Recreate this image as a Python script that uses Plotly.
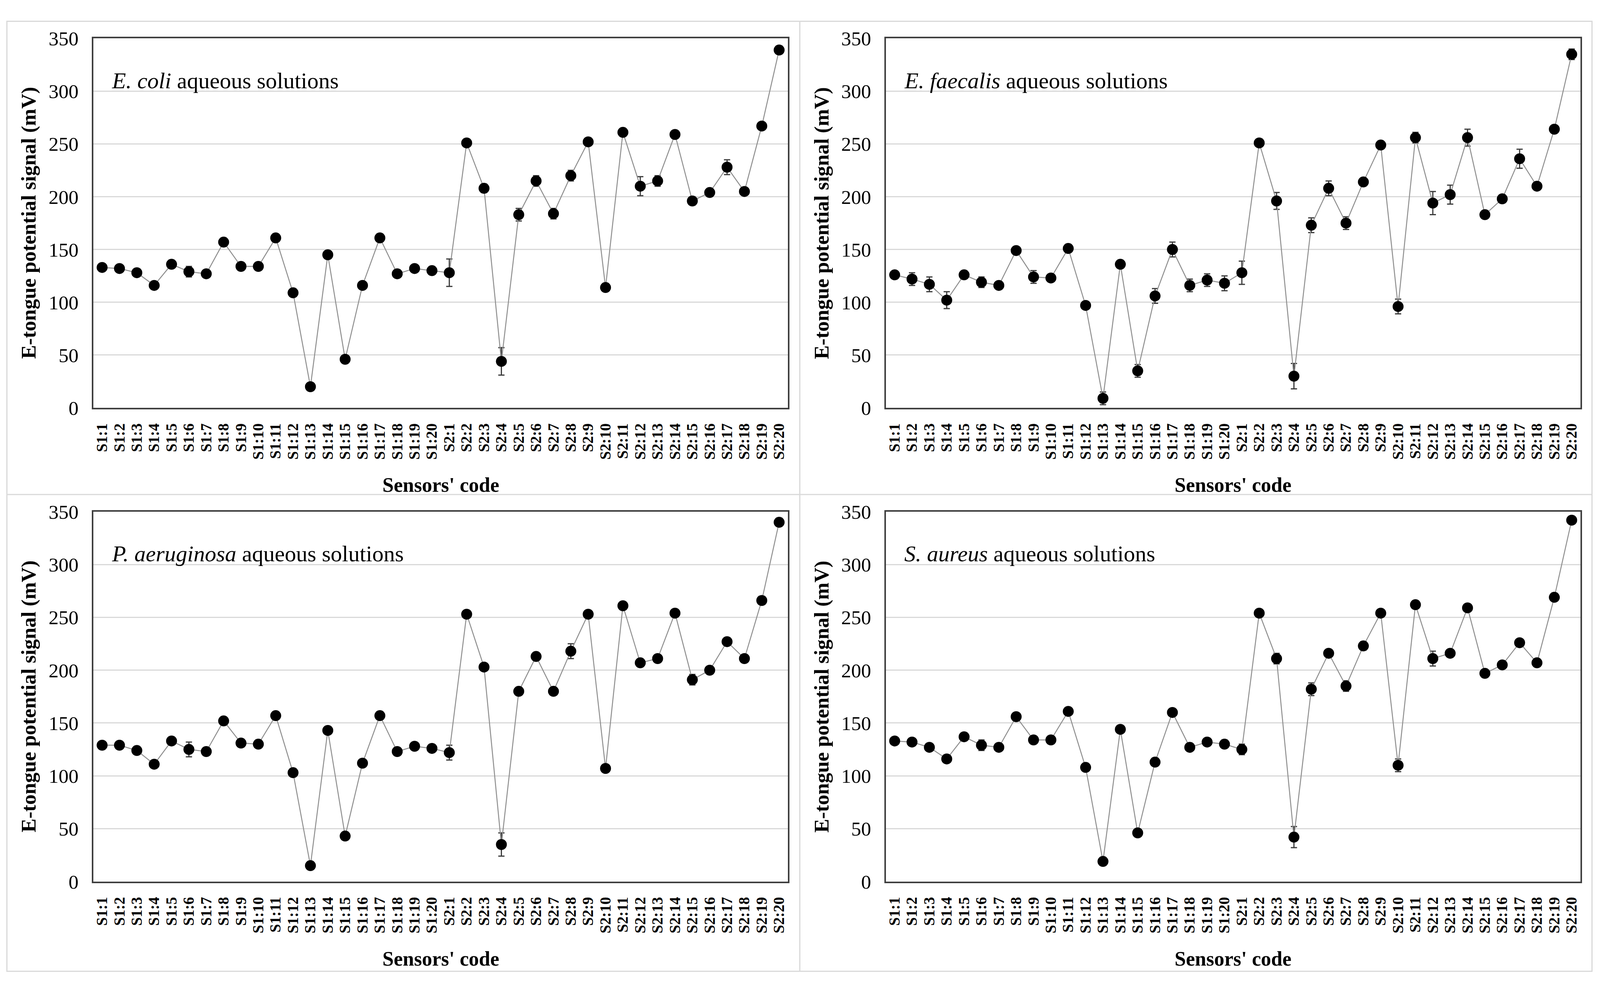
import plotly.graph_objects as go

categories = ["S1:1", "S1:2", "S1:3", "S1:4", "S1:5", "S1:6", "S1:7", "S1:8", "S1:9", "S1:10",
              "S1:11", "S1:12", "S1:13", "S1:14", "S1:15", "S1:16", "S1:17", "S1:18", "S1:19", "S1:20",
              "S2:1", "S2:2", "S2:3", "S2:4", "S2:5", "S2:6", "S2:7", "S2:8", "S2:9", "S2:10",
              "S2:11", "S2:12", "S2:13", "S2:14", "S2:15", "S2:16", "S2:17", "S2:18", "S2:19", "S2:20"]

ecoli = [133, 132, 128, 116, 136, 129, 127, 157, 134, 134, 161, 109, 20, 145, 46, 116, 161, 127, 132, 130,
         128, 251, 208, 44, 183, 215, 184, 220, 252, 114, 261, 210, 215, 259, 196, 204, 228, 205, 267, 339]
ecoli_err = [2, 2, 2, 3, 2, 5, 2, 2, 2, 2, 2, 2, 2, 2, 2, 2, 2, 2, 2, 2,
             13, 2, 4, 13, 6, 5, 5, 5, 2, 2, 2, 9, 5, 2, 2, 2, 7, 2, 2, 2]

faecalis = [126, 122, 117, 102, 126, 119, 116, 149, 124, 123, 151, 97, 9, 136, 35, 106, 150, 116, 121, 118,
            128, 251, 196, 30, 173, 208, 175, 214, 249, 96, 256, 194, 202, 256, 183, 198, 236, 210, 264, 335]
faecalis_err = [2, 6, 7, 8, 2, 5, 2, 2, 6, 2, 2, 2, 6, 2, 6, 7, 7, 6, 6, 7,
                11, 2, 8, 12, 7, 7, 6, 2, 2, 7, 5, 11, 9, 8, 2, 2, 9, 2, 2, 5]

paeruginosa = [129, 129, 124, 111, 133, 125, 123, 152, 131, 130, 157, 103, 15, 143, 43, 112, 157, 123, 128, 126,
               122, 253, 203, 35, 180, 213, 180, 218, 253, 107, 261, 207, 211, 254, 191, 200, 227, 211, 266, 340]
paeruginosa_err = [2, 2, 2, 2, 2, 7, 2, 2, 2, 2, 2, 2, 2, 2, 2, 2, 2, 2, 2, 2,
                   7, 2, 2, 11, 2, 2, 2, 7, 2, 2, 2, 2, 2, 2, 5, 2, 2, 2, 2, 2]

saureus = [133, 132, 127, 116, 137, 129, 127, 156, 134, 134, 161, 108, 19, 144, 46, 113, 160, 127, 132, 130,
           125, 254, 211, 42, 182, 216, 185, 223, 254, 110, 262, 211, 216, 259, 197, 205, 226, 207, 269, 342]
saureus_err = [2, 2, 2, 2, 2, 5, 2, 2, 2, 2, 2, 2, 2, 2, 2, 2, 2, 2, 2, 2,
               5, 2, 5, 10, 6, 2, 5, 4, 2, 6, 2, 7, 2, 2, 2, 2, 2, 2, 2, 2]

panel_titles = ["<i>E. coli</i> aqueous solutions", "<i>E. faecalis</i> aqueous solutions",
                "<i>P. aeruginosa</i> aqueous solutions", "<i>S. aureus</i> aqueous solutions"]
y_ticks = [0, 50, 100, 150, 200, 250, 300, 350]
y_title = "E-tongue potential signal (mV)"
x_title = "Sensors' code"

series = [(ecoli, ecoli_err), (faecalis, faecalis_err), (paeruginosa, paeruginosa_err), (saureus, saureus_err)]

# reference canvas (pixels) used to express the layout as fractions
W, H = 4401, 2537
FONT = "Liberation Serif"

# plot areas in reference pixels (left, right, top, bottom)
areas = [(257, 2167, 73, 1040), (2437, 4347, 73, 1040),
         (257, 2167, 1312, 2280), (2437, 4347, 1312, 2280)]
# panel cell left edge and x-title centre line (reference pixels)
cells = [(19, 1242), (2200, 1242), (19, 2482), (2200, 2482)]

fig = go.Figure()
for i, ((vals, errs), title, (l, r, t, b), (cx0, ty)) in enumerate(zip(series, panel_titles, areas, cells)):
    n = "" if i == 0 else str(i + 1)
    xa, ya = "x" + n, "y" + n
    fig.add_trace(go.Scatter(
        x=categories, y=vals, xaxis=xa, yaxis=ya, mode="lines+markers",
        line=dict(color="#8f8f8f", width=2.5),
        marker=dict(color="black", size=28),
        error_y=dict(type="data", array=errs, visible=True, color="#3a3a3a", thickness=3, width=8),
        showlegend=False))
    fig.layout["xaxis" + n] = dict(
        domain=[l / W, r / W], anchor=ya, type="category", range=[-0.5, 39.5],
        tickmode="array", tickvals=categories, ticktext=categories,
        tickangle=-90, tickfont=dict(family=FONT, size=39, color="black", weight="bold"),
        ticks="outside", ticklen=20, tickcolor="rgba(0,0,0,0)",
        showgrid=False, showline=True, linecolor="#3f3f3f", linewidth=4, mirror=True,
    )
    fig.layout["yaxis" + n] = dict(
        domain=[1 - b / H, 1 - t / H], anchor=xa, range=[0, 350], tickvals=y_ticks,
        tickfont=dict(family=FONT, size=51, color="black"),
        ticks="outside", ticklen=24, tickcolor="rgba(0,0,0,0)",
        showgrid=True, gridcolor="#d9d9d9", gridwidth=3, zeroline=False,
        showline=True, linecolor="#3f3f3f", linewidth=4, mirror=True,
    )
    # panel label inside the plot
    fig.add_annotation(xref=xa + " domain", yref=ya + " domain", x=0.025, y=0.886,
                       xanchor="left", yanchor="middle", showarrow=False, text=title,
                       font=dict(family=FONT, size=58, color="black"))
    # axis titles
    fig.add_annotation(xref="paper", yref="paper", x=(l + r) / 2 / W, y=1 - ty / H,
                       xanchor="center", yanchor="middle", showarrow=False,
                       text="<b>" + x_title + "</b>", font=dict(family=FONT, size=52, color="black"))
    fig.add_annotation(xref="paper", yref=ya + " domain", x=(cx0 + 60) / W, y=0.5,
                       xanchor="center", yanchor="middle", showarrow=False, textangle=-90,
                       text="<b>" + y_title + "</b>", font=dict(family=FONT, size=53, color="black"))

# light panel frames
frame = dict(color="#d9d9d9", width=3)
shapes = [
    dict(type="rect", xref="paper", yref="paper", x0=19 / W, x1=4379 / W, y0=1 - 2515 / H, y1=1 - 28 / H, line=frame),
    dict(type="line", xref="paper", yref="paper", x0=2200 / W, x1=2200 / W, y0=1 - 2515 / H, y1=1 - 28 / H, line=frame),
    dict(type="line", xref="paper", yref="paper", x0=19 / W, x1=4379 / W, y0=1 - 1267 / H, y1=1 - 1267 / H, line=frame),
]
fig.update_layout(autosize=True, margin=dict(l=0, r=0, t=0, b=0),
                  paper_bgcolor="white", plot_bgcolor="white", shapes=shapes,
                  font=dict(family=FONT, color="black"))

post = ("document.body.style.margin='0';document.body.style.padding='0';"
        "document.documentElement.style.overflow='hidden';"
        "Plotly.Plots.resize(document.getElementById('{plot_id}'));")
fig.write_html("out.html", default_width="100vw", default_height="100vh",
               config={"responsive": True, "displayModeBar": False}, post_script=post)
